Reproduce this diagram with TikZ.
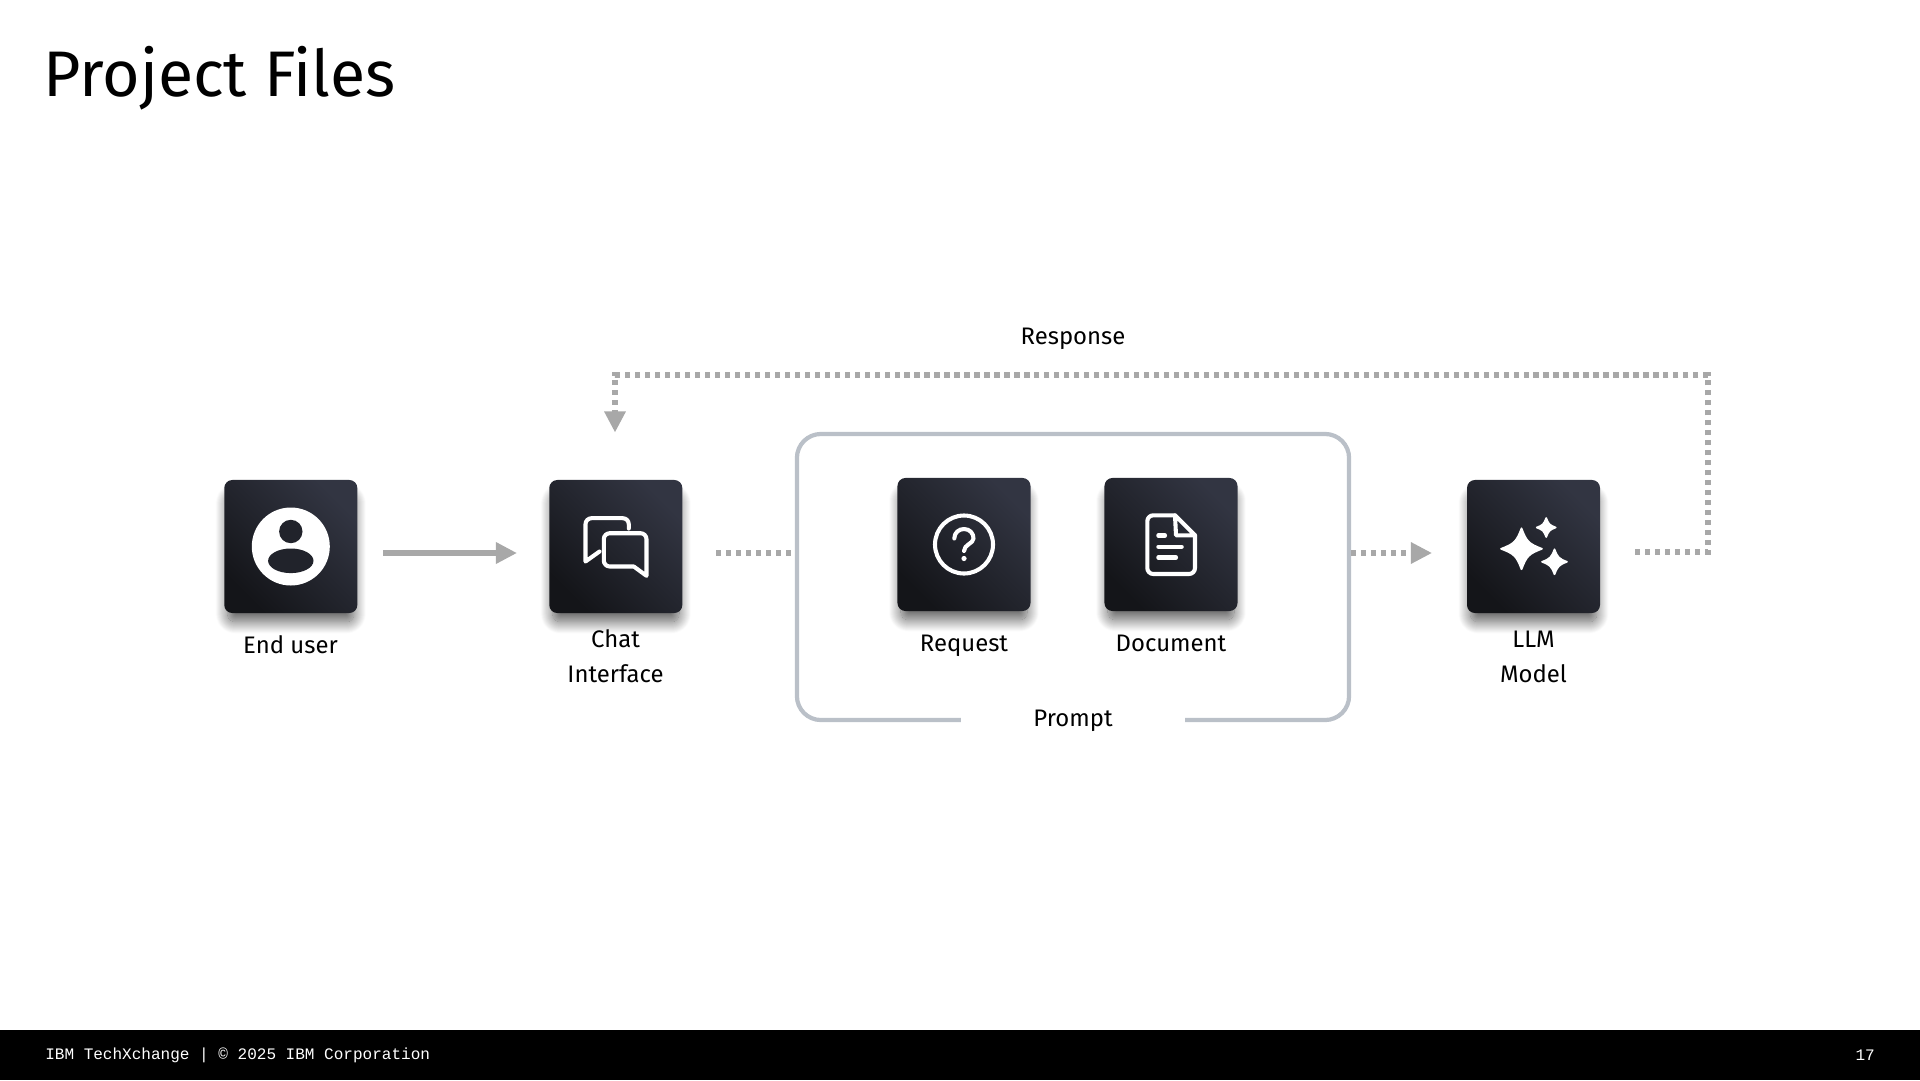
\documentclass[tikz,border=0pt]{standalone}
\usepackage{fontspec}
\setmainfont{Fira Sans}
\newfontfamily\footfont{Liberation Mono}
\usetikzlibrary{arrows.meta,positioning,shadows.blur,calc}
\definecolor{boxlo}{RGB}{20,21,25}
\definecolor{boxhi}{RGB}{50,53,66}
\definecolor{boxmid}{RGB}{33,35,43}
\definecolor{arr}{RGB}{168,168,168}
\definecolor{frm}{RGB}{186,192,200}
\tikzset{
  iconbox/.style={rectangle,rounded corners=0.2cm,minimum size=3.325cm,inner sep=0pt,
    bottom color=boxlo,top color=boxhi,shading angle=-45,
    blur shadow={shadow xshift=0pt,shadow yshift=-9pt,shadow scale=0.95,shadow blur radius=9pt,shadow opacity=65,shadow blur steps=24}},
  lbl/.style={font=\fontsize{17}{25}\selectfont,align=center,text=black,inner sep=0pt},
  link/.style={-{Triangle[length=15pt,width=14.5pt]},line width=4pt,draw=arr},
  linkdot/.style={line width=3.6pt,draw=arr,dash pattern=on 3.7pt off 3.4pt},
  dothead/.style={-{Triangle[length=15pt,width=14.5pt]}},
  iconline/.style={draw=white,line width=2.9pt,line cap=round,line join=round},
  footlbl/.style={font=\footfont\fontsize{11.4}{14}\selectfont,text=white,inner sep=0pt},
}
\begin{document}
\begin{tikzpicture}[x=0.025cm,y=-0.025cm]
\useasboundingbox (0,0) rectangle (1920,1080);
% title and footer
\node[anchor=base west,inner sep=0pt,font=\fontsize{45.8}{50}\selectfont] (title) at (43,96) {Project Files};
\fill[black] (0,1029.5) rectangle (1920,1080);
\node[footlbl,anchor=west] (footer) at (45,1055) {IBM TechXchange | © 2025 IBM Corporation};
\node[footlbl,anchor=east] (pagenum) at (1875,1055) {17};

% prompt frame
\node[rectangle,draw=frm,line width=3pt,rounded corners=0.6cm,minimum width=13.8cm,minimum height=7.15cm] (promptbox) at (1073,577) {};
\node[lbl,fill=white,minimum width=5.6cm,minimum height=0.7cm] (promptlabel) at (1073,721) {Prompt};

% boxes
\node[iconbox] (userbox) at (290.8,546.5) {};
\node[iconbox] (chatbox) at (615.8,546.5) {};
\node[iconbox] (requestbox) at (964,544.5) {};
\node[iconbox] (documentbox) at (1171,544.5) {};
\node[iconbox] (llmbox) at (1533.5,546.5) {};

% labels
\node[lbl] (userlabel) at (290.5,645) {End user};
\node[lbl] (chatlabel) at (615.5,656.5) {Chat\\Interface};
\node[lbl] (requestlabel) at (964,645.5) {Request};
\node[lbl] (documentlabel) at (1171,643) {Document};
\node[lbl] (llmlabel) at (1533.5,657) {LLM\\Model};
\node[lbl] (responselabel) at (1073,338.5) {Response};

% connector ends
\coordinate (userout) at (383,553);
\coordinate (chatin) at (517,553);
\coordinate (chatout) at (716,553);
\coordinate (llmin) at (1432,553);
\coordinate (llmout) at (1635,552);
\coordinate (backcorner) at (1708,375);
\coordinate (chattop) at (615,432.5);

\draw[link] (userout) -- (chatin);
\draw[linkdot] (chatout) -- (chatout -| promptbox.west);
\draw[linkdot,dothead] (llmin -| promptbox.east) -- (llmin);
\draw[linkdot,dothead] (llmout) -| (backcorner) -| (chattop);

% user icon
\begin{scope}[shift={(userbox.center)}]
\fill[white] (0,0) circle (39);
\fill[boxmid] (0,-15) circle (11.7);
\fill[boxmid] (0,14.3) ellipse (22.7 and 12.3);
\end{scope}

% chat icon
\begin{scope}[shift={(chatbox.center)}]
\draw[iconline,rounded corners=0.15cm] (13,-18) -- (13,-28.3) -- (-30.3,-28.3) -- (-30.3,15) [sharp corners] -- (-30.3,15) -- (-16.3,5);
\draw[iconline,rounded corners=0.15cm] (18,20) -- (-12,20) -- (-12,-13.3) -- (30.7,-13.3) -- (30.7,29.3) [sharp corners] -- (30.7,29.3) -- (18,20);
\end{scope}

% question icon
\begin{scope}[shift={(requestbox.center)}]
\draw[iconline] (0,0) circle (29);
\draw[iconline] (-9.7,-6) .. controls (-9.7,-12) and (-5,-15.5) .. (0,-15.5) .. controls (6,-15.5) and (9.5,-11) .. (9.5,-6) .. controls (9.5,-1) and (0,0) .. (0,6.5);
\fill[white] (0,14) circle (2.6);
\end{scope}

% document icon
\begin{scope}[shift={(documentbox.center)}]
\draw[iconline,rounded corners=0.15cm] (4,-29.2) -- (-23.7,-29.2) -- (-23.7,29.5) -- (24,29.5) -- (24,-9.2);
\draw[iconline] (4,-29.2) -- (24,-9.2) -- (5,-9.2) -- cycle;
\draw[iconline] (-12.7,-9) -- (-6,-9);
\draw[iconline] (-12.7,2.2) -- (10.7,2.2);
\draw[iconline] (-12.7,13) -- (5,13);
\end{scope}

% sparkle icon
\begin{scope}[shift={(llmbox.center)}]
\foreach \cx/\cy/\rr in {-12/2.3/20.5,12.7/-19/9.5,21/15.3/12.5}
  \fill[white,line join=round,draw=white,line width=1.2pt] (\cx-\rr,\cy) .. controls (\cx-0.35*\rr,\cy-0.25*\rr) and (\cx-0.25*\rr,\cy-0.35*\rr) .. (\cx,\cy-\rr)
    .. controls (\cx+0.25*\rr,\cy-0.35*\rr) and (\cx+0.35*\rr,\cy-0.25*\rr) .. (\cx+\rr,\cy)
    .. controls (\cx+0.35*\rr,\cy+0.25*\rr) and (\cx+0.25*\rr,\cy+0.35*\rr) .. (\cx,\cy+\rr)
    .. controls (\cx-0.25*\rr,\cy+0.35*\rr) and (\cx-0.35*\rr,\cy+0.25*\rr) .. (\cx-\rr,\cy) -- cycle;
\end{scope}
\end{tikzpicture}
\end{document}
